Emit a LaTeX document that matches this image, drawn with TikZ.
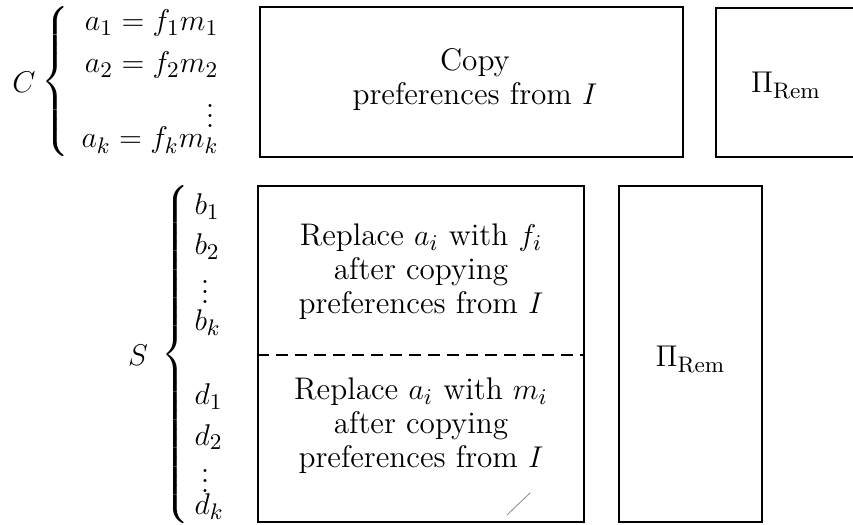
\documentclass[tikz,border=0pt]{standalone}
\usepackage{amsmath,amssymb}
\usetikzlibrary{positioning}
\begin{document}
\begin{tikzpicture}[x=0.4pt, y=-0.4pt, font=\fontsize{12.5}{14.5}\selectfont,
    box/.style={draw, line width=0.7pt, inner sep=0pt},
    blocktext/.style={align=center, inner sep=0pt, font=\fontsize{12.5}{13.6}\selectfont},
    rowr/.style={anchor=base east, inner sep=0pt},
    rowl/.style={anchor=base west, inner sep=0pt}]
  \useasboundingbox (0,0) rectangle (853,525);
  \clip (0,0) rectangle (853,525);

  % class C and its brace
  \node[inner sep=0pt] (C) at (24,82) {$C$};
  \node[inner sep=0pt] (Cbrace) at (57,82)
      {$\left\{\vrule height 31.9pt depth 26.9pt width 0pt\right.$};
  \node[rowr] (a1) at (219,31) {$a_1 = f_1 m_1$};
  \node[rowr] (a2) at (219,73) {$a_2 = f_2 m_2$};
  \node[inner sep=0pt] (adots) at (210,108) {$\vdots$};
  \node[rowr] (ak) at (219,148) {$a_k = f_k m_k$};

  % top row boxes
  \node[box, minimum width=169.2pt, minimum height=60pt] (copybox) at (471.5,82) {};
  \node[blocktext] (copytext) at (475,80) {Copy\\preferences from $I$};
  \node[box, minimum width=65.6pt, minimum height=59.6pt] (remtop) at (798,82.5) {};
  \node[inner sep=0pt, anchor=base] (remtoptext) at (786,93) {$\Pi_{\mathrm{Rem}}$};

  % class S and its brace
  \node[inner sep=0pt] (S) at (138,355) {$S$};
  \node[inner sep=0pt] (Sbrace) at (177,354.5)
      {$\left\{\vrule height 69.5pt depth 64.5pt width 0pt\right.$};
  \node[rowl] (b1) at (194,215) {$b_1$};
  \node[rowl] (b2) at (194,255) {$b_2$};
  \node[inner sep=0pt] (bdots) at (205,284) {$\vdots$};
  \node[rowl] (bk) at (194,330) {$b_k$};
  \node[rowl] (d1) at (194,405) {$d_1$};
  \node[rowl] (d2) at (194,445) {$d_2$};
  \node[inner sep=0pt] (ddots) at (205,473) {$\vdots$};
  \node[rowl] (dk) at (194,514) {$d_k$};

  % bottom row boxes, split by a dashed line
  \node[box, minimum width=130.4pt, minimum height=134.4pt] (splitbox) at (421,354) {};
  \coordinate (cut) at (0,355);
  \draw[line width=0.7pt, dash pattern=on 4.8pt off 2.8pt]
      (splitbox.west |- cut) -- (splitbox.east |- cut);
  \node[blocktext] (ftext) at (421,272)
      {Replace $a_i$ with $f_i$\\after copying\\preferences from $I$};
  \node[blocktext] (mtext) at (421,426)
      {Replace $a_i$ with $m_i$\\after copying\\preferences from $I$};
  \node[box, minimum width=57.2pt, minimum height=134.4pt] (rembot) at (690.5,354) {};
  \node[inner sep=0pt, anchor=base] (rembottext) at (690.5,367) {$\Pi_{\mathrm{Rem}}$};

  % stray pen mark
  \draw[gray, line width=0.3pt] (507,515) -- (530,493);
\end{tikzpicture}
\end{document}
